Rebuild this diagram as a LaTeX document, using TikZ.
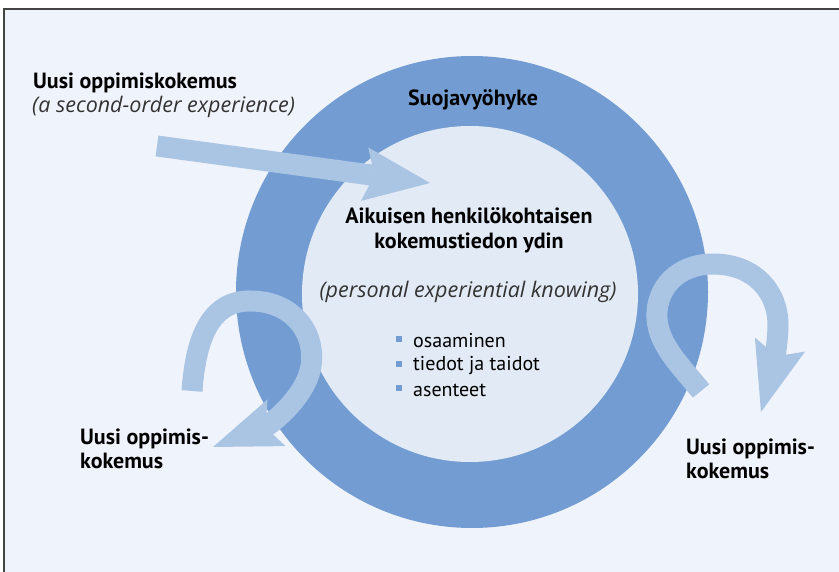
\documentclass[tikz,border=0pt]{standalone}
\usepackage{fontspec}
\setmainfont{PT Sans}
\newfontfamily\slantfont{Open Sans}
\usetikzlibrary{arrows.meta}

\definecolor{ringblue}{HTML}{739DD2}
\definecolor{coreblue}{HTML}{E2EAF5}
\definecolor{flowblue}{HTML}{AAC4E4}
\definecolor{paperblue}{HTML}{EFF3FB}
\definecolor{framegray}{HTML}{444444}

\begin{document}
\begin{tikzpicture}[x=1pt, y=-1pt,
    every node/.style={inner sep=0pt, font=\fontsize{20}{24}\selectfont},
    heading/.style={font=\fontsize{22}{25}\selectfont\bfseries, text=black},
    label/.style={font=\fontsize{22}{24}\selectfont\bfseries, text=black},
    aside/.style={font=\fontsize{21.5}{24}\slantfont\itshape, text=black!80},
    flow/.style={draw=flowblue, line width=21pt, line cap=butt},
    bullet/.style={fill=ringblue, minimum size=6pt, inner sep=0pt}]
        \useasboundingbox (0,0) rectangle (839,572);
        %Background and frame
        \fill[paperblue] (4,9) rectangle (839,572);
        \draw[framegray, line width=2pt] (4,572) -- (4,9) -- (839,9);
        %Protective belt and core
        \fill[ringblue] (472,292) circle (236pt);
        \fill[coreblue] (470,294) circle (168pt);
        %Incoming experience
        \coordinate (inStart) at (157,146);
        \coordinate (inEnd) at (430,183);
        \draw[flow, -{Stealth[length=66pt, width=54pt, inset=10pt, line width=0pt, flowblue]}] (inStart) -- (inEnd);
        %Loop on the left
        \coordinate (leftStart) at (192,391);
        \coordinate (leftEnd) at (213,447);
        \draw[flow, -{Stealth[length=68pt, width=50pt, inset=12pt, line width=0pt, flowblue]}] (leftStart) .. controls (195,350) and (205,302) .. (248,301) .. controls (292,300) and (316,332) .. (311,366) .. controls (306,398) and (268,426) .. (leftEnd);
        %Loop on the right
        \coordinate (rightStart) at (701,391);
        \coordinate (rightEnd) at (761,412);
        \draw[flow, -{Stealth[length=70pt, width=52pt, inset=12pt, line width=0pt, flowblue]}] (rightStart) .. controls (680,365) and (655,342) .. (657,312) .. controls (659,281) and (685,263) .. (715,264) .. controls (755,265) and (778,292) .. (778,325) .. controls (778,348) and (770,380) .. (rightEnd);
        %Texts
        \node[heading, anchor=west] (newTop) at (33,83) {Uusi oppimiskokemus};
        \node[aside, anchor=west] (newTopNote) at (32,107) {(a second-order experience)};
        \node[heading] (belt) at (473,100) {Suojavyöhyke};
        \node[heading, align=center] (core) at (469,230) {Aikuisen henkilökohtaisen\\kokemustiedon ydin};
        \node[aside] (coreNote) at (468,292) {(personal experiential knowing)};
        \node[anchor=west] (skills) at (413,341) {osaaminen};
        \node[anchor=west] (knowledge) at (413,366) {tiedot ja taidot};
        \node[anchor=west] (attitudes) at (413,390) {asenteet};
        \node[bullet] (skillsMark) at (399,339) {};
        \node[bullet] (knowledgeMark) at (399,364) {};
        \node[bullet] (attitudesMark) at (399,388) {};
        \node[label, align=left, anchor=west] (newLeft) at (80,449) {Uusi oppimis-\\kokemus};
        \node[label, align=left, anchor=west] (newRight) at (686,459) {Uusi oppimis-\\kokemus};
\end{tikzpicture}
\end{document}
